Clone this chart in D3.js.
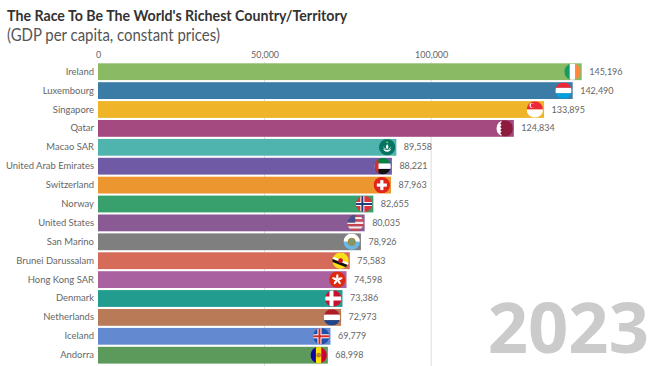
<!DOCTYPE html>
<html lang="en">
<head>
<meta charset="UTF-8">
<title>The Race To Be The World's Richest Country/Territory</title>
<script src="https://d3js.org/d3.v7.min.js"></script>
<style>
  html, body { margin: 0; padding: 0; background: #fff; overflow: hidden; }
  text { font-family: Lato, "Noto Sans", sans-serif; }
</style>
</head>
<body>
<div id="chart"></div>
<script>
// Data
const countries = ["Ireland", "Luxembourg", "Singapore", "Qatar", "Macao SAR", "United Arab Emirates",
  "Switzerland", "Norway", "United States", "San Marino", "Brunei Darussalam", "Hong Kong SAR",
  "Denmark", "Netherlands", "Iceland", "Andorra"];
const gdp = [145196, 142490, 133895, 124834, 89558, 88221, 87963, 82655, 80035, 78926, 75583, 74598, 73386, 72973, 69779, 68998];
const barColors = ["#8aba63", "#3a7ca5", "#f0b429", "#a44a80", "#4fb3ae", "#6f5aa5", "#ec9630", "#38a06c",
  "#8a5a94", "#7f7f7f", "#d66b5a", "#a9619f", "#219c8f", "#b97a58", "#6389d0", "#5b9a5a"];
const tickValues = [0, 50000, 100000];
const year = "2023";

const width = 650, height = 366;

const svg = d3.select("#chart").append("svg")
  .attr("width", width)
  .attr("height", height);

const x = d3.scaleLinear().domain([0, 145196]).range([98, 581.7]);
const y = d3.scaleBand().domain(countries).range([63.3, 363.6]).paddingInner(0.111);

// The original font is narrower than anything installed, so squeeze the text a bit
function condense(sel, factor) {
  sel.each(function () {
    const t = d3.select(this);
    t.attr("textLength", this.getComputedTextLength() * factor).attr("lengthAdjust", "spacingAndGlyphs");
  });
}

// Title
svg.append("text").attr("x", 7).attr("y", 21)
  .attr("font-size", 15.6).attr("font-weight", 700).attr("fill", "#333")
  .text("The Race To Be The World's Richest Country/Territory")
  .call(condense, 0.91);
svg.append("text").attr("x", 7).attr("y", 40.5)
  .attr("font-size", 16.6).attr("fill", "#555")
  .text("(GDP per capita, constant prices)")
  .call(condense, 0.9);

// Axis on top with gridlines
const axis = d3.axisTop(x).tickValues(tickValues).tickFormat(d3.format(",")).tickSize(0).tickPadding(0);
const axisG = svg.append("g").attr("transform", "translate(0,57.5)").call(axis);
axisG.select(".domain").remove();
axisG.selectAll("text").attr("font-size", 9.6).attr("fill", "#666")
  .style("font-family", 'Lato, "Noto Sans", sans-serif')
  .call(condense, 0.93);

svg.append("g").selectAll("line").data(tickValues.slice(1)).join("line")
  .attr("x1", d => x(d)).attr("x2", d => x(d))
  .attr("y1", 62).attr("y2", height)
  .attr("stroke", "#ddd").attr("stroke-width", 1);

// Year watermark
svg.append("text").attr("x", 649).attr("y", 353)
  .attr("text-anchor", "end")
  .attr("font-size", 70.5).attr("font-weight", 700).attr("fill", "#cbcbcb")
  .style("font-family", '"Noto Sans", sans-serif')
  .text(year);

// Bars
const barIndex = d => countries.indexOf(d);
svg.append("g").selectAll("rect").data(countries).join("rect")
  .attr("x", x(0))
  .attr("y", d => y(d))
  .attr("width", d => x(gdp[barIndex(d)]) - x(0))
  .attr("height", y.bandwidth())
  .attr("fill", d => barColors[barIndex(d)]);

// Country labels
svg.append("g").selectAll("text").data(countries).join("text")
  .attr("x", 94).attr("y", d => y(d) + y.bandwidth() / 2 + 3)
  .attr("text-anchor", "end")
  .attr("font-size", 10).attr("fill", "#666")
  .text(d => d)
  .call(condense, 0.945);

// Value labels
svg.append("g").selectAll("text").data(countries).join("text")
  .attr("x", d => x(gdp[barIndex(d)]) + 7.5).attr("y", d => y(d) + y.bandwidth() / 2 + 3)
  .attr("font-size", 10).attr("fill", "#666")
  .text(d => d3.format(",")(gdp[barIndex(d)]))
  .call(condense, 0.9);

// Flags: each one is drawn in a unit box of -r..r and clipped to a circle
const r = 8.2;
const defs = svg.append("defs");
defs.append("clipPath").attr("id", "flag-clip").append("circle").attr("r", r);

function rect(g, x0, y0, w, h, fill) {
  g.append("rect").attr("x", x0).attr("y", y0).attr("width", w).attr("height", h).attr("fill", fill);
}
function hStripes(g, colors) {
  const h = 2 * r / colors.length;
  colors.forEach((c, i) => rect(g, -r, -r + i * h, 2 * r, h, c));
}
function vStripes(g, colors) {
  const w = 2 * r / colors.length;
  colors.forEach((c, i) => rect(g, -r + i * w, -r, w, 2 * r, c));
}
function nordic(g, bg, outer, inner) {
  rect(g, -r, -r, 2 * r, 2 * r, bg);
  rect(g, -3.8, -r, 4, 2 * r, outer);
  rect(g, -r, -2, 2 * r, 4, outer);
  if (inner) {
    rect(g, -2.8, -r, 2, 2 * r, inner);
    rect(g, -r, -1, 2 * r, 2, inner);
  }
}

const flags = {
  "Ireland": g => vStripes(g, ["#169b62", "#fff", "#ff883e"]),
  "Luxembourg": g => hStripes(g, ["#ed2939", "#fff", "#00a1de"]),
  "Singapore": g => {
    hStripes(g, ["#ed2939", "#fff"]);
    g.append("circle").attr("cx", -3).attr("cy", -4).attr("r", 2.4).attr("fill", "#fff");
    g.append("circle").attr("cx", -2).attr("cy", -4).attr("r", 2.2).attr("fill", "#ed2939");
  },
  "Qatar": g => {
    rect(g, -r, -r, 2 * r, 2 * r, "#8d1b3d");
    g.append("path").attr("d", "M-9-9H-4L-3-6.4-4.5-4.8-3-3.2-4.5-1.6-3 0-4.5 1.6-3 3.2-4.5 4.8-3 6.4-4 9H-9Z").attr("fill", "#fff");
  },
  "Macao SAR": g => {
    rect(g, -r, -r, 2 * r, 2 * r, "#067662");
    g.append("path").attr("d", "M-4 1.5Q0 4 4 1.5 3 4.5 0 4.5T-4 1.5Z").attr("fill", "#fff");
    g.append("path").attr("d", "M0-3Q2.6 -0.5 0 2.2-2.6 -0.5 0-3Z").attr("fill", "#fff");
    g.append("path").attr("d", "M-4-1Q-2.6 1.6 -0.6 2.2-3 2.4-4-1ZM4-1Q2.6 1.6 0.6 2.2 3 2.4 4-1Z").attr("fill", "#fff");
    g.append("circle").attr("cx", 0).attr("cy", -5).attr("r", 0.8).attr("fill", "#f8d247");
  },
  "United Arab Emirates": g => {
    hStripes(g, ["#00843d", "#fff", "#111"]);
    rect(g, -r, -r, 4, 2 * r, "#d32f2f");
  },
  "Switzerland": g => {
    rect(g, -r, -r, 2 * r, 2 * r, "#e2231a");
    rect(g, -1.6, -5, 3.2, 10, "#fff");
    rect(g, -5, -1.6, 10, 3.2, "#fff");
  },
  "Norway": g => nordic(g, "#d8343c", "#fff", "#1f3f7a"),
  "United States": g => {
    hStripes(g, ["#c8444e", "#f4e8e8", "#c8444e", "#f4e8e8", "#c8444e", "#f4e8e8", "#c8444e"]);
    rect(g, -r, -r, 8, 8, "#4a4f88");
  },
  "San Marino": g => {
    hStripes(g, ["#fff", "#6cb6e4"]);
    g.append("circle").attr("r", 3.6).attr("fill", "#7c9a6a").attr("stroke", "#a8873f").attr("stroke-width", 1);
  },
  "Brunei Darussalam": g => {
    rect(g, -r, -r, 2 * r, 2 * r, "#f7e017");
    g.append("path").attr("d", "M-9-4.5 9 2.5V5L-9-2Z").attr("fill", "#fff");
    g.append("path").attr("d", "M-9-2 9 5V8L-9 1Z").attr("fill", "#111");
    g.append("circle").attr("r", 2.4).attr("fill", "#cf1126");
  },
  "Hong Kong SAR": g => {
    rect(g, -r, -r, 2 * r, 2 * r, "#de2910");
    d3.range(5).forEach(i => {
      g.append("ellipse").attr("cx", 0).attr("cy", -2.8).attr("rx", 1.2).attr("ry", 2.8)
        .attr("fill", "#fff").attr("transform", `rotate(${i * 72})`);
    });
  },
  "Denmark": g => nordic(g, "#c8102e", "#fff"),
  "Netherlands": g => hStripes(g, ["#ae1c28", "#fff", "#21468b"]),
  "Iceland": g => nordic(g, "#1f4fa8", "#fff", "#d72828"),
  "Andorra": g => {
    vStripes(g, ["#10069f", "#fedd00", "#d50032"]);
    g.append("circle").attr("r", 2.4).attr("fill", "#b8862d");
  }
};

countries.forEach(name => {
  const cx = x(gdp[barIndex(name)]) - r - 1;
  const cy = y(name) + y.bandwidth() / 2;
  const g = svg.append("g").attr("transform", `translate(${cx},${cy})`);
  const inner = g.append("g").attr("clip-path", "url(#flag-clip)");
  flags[name](inner);
});
</script>
</body>
</html>
